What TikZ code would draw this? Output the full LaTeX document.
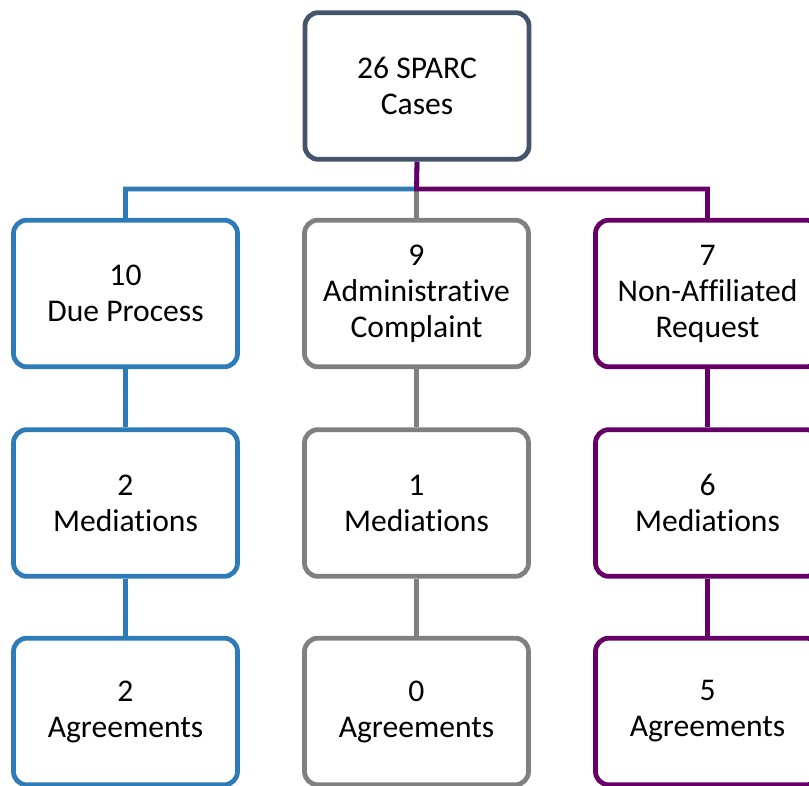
\documentclass[tikz,border=0pt]{standalone}
\usepackage{fontspec}
\setmainfont{Carlito}[Ligatures=CommonOff]
\usepackage{tikz}
\usepackage{xcolor}
\usetikzlibrary{positioning, calc}
\definecolor{slate}{HTML}{44546A}
\definecolor{dpblue}{HTML}{2E7BB8}
\definecolor{acgray}{HTML}{808080}
\definecolor{narpurple}{HTML}{660066}

\begin{document}
\begin{tikzpicture}[x=0.75pt, y=-0.75pt,
            casebox/.style={rectangle, rounded corners=10pt, draw, fill=white, line width=3.6pt, minimum width=168pt, minimum height=110pt, inner sep=2pt, align=center, font=\fontsize{23.7}{27}\selectfont},
            link/.style={line width=3.6pt}]
            \clip (0,0) rectangle (809,785);
            \fill[white] (0,0) rectangle (809,785);
            \node[casebox, draw=slate] (top) at (417,86) {26 SPARC\\Cases};
            \node[casebox, draw=dpblue] (dp) at (125.5,293.5) {10\\Due Process};
            \node[casebox, draw=acgray] (ac) at (416.5,293.5) {9\\Administrative\\Complaint};
            \node[casebox, draw=narpurple] (nar) at (707.5,293.5) {7\\Non-Affiliated\\Request};
            \node[casebox, draw=dpblue] (dpmed) at (125.5,503) {2\\Mediations};
            \node[casebox, draw=acgray] (acmed) at (416.5,503) {1\\Mediations};
            \node[casebox, draw=narpurple] (narmed) at (707.5,503) {6\\Mediations};
            \node[casebox, draw=dpblue] (dpagr) at (125.5,711.5) {2\\Agreements};
            \node[casebox, draw=acgray] (acagr) at (416.5,711.5) {0\\Agreements};
            \node[casebox, draw=narpurple] (naragr) at (707.5,711.5) {5\\Agreements};
            \coordinate (split) at (416.5,189);
            \draw[link, dpblue] (top.south) -- (split) -| (dp.north);
            \draw[link, acgray] (split) -- (ac.north);
            \draw[link, narpurple] (top.south) -- (split) -| (nar.north);
            \draw[link, dpblue] (dp.south) -- (dpmed.north);
            \draw[link, dpblue] (dpmed.south) -- (dpagr.north);
            \draw[link, acgray] (ac.south) -- (acmed.north);
            \draw[link, acgray] (acmed.south) -- (acagr.north);
            \draw[link, narpurple] (nar.south) -- (narmed.north);
            \draw[link, narpurple] (narmed.south) -- (naragr.north);
        \end{tikzpicture}
\end{document}
